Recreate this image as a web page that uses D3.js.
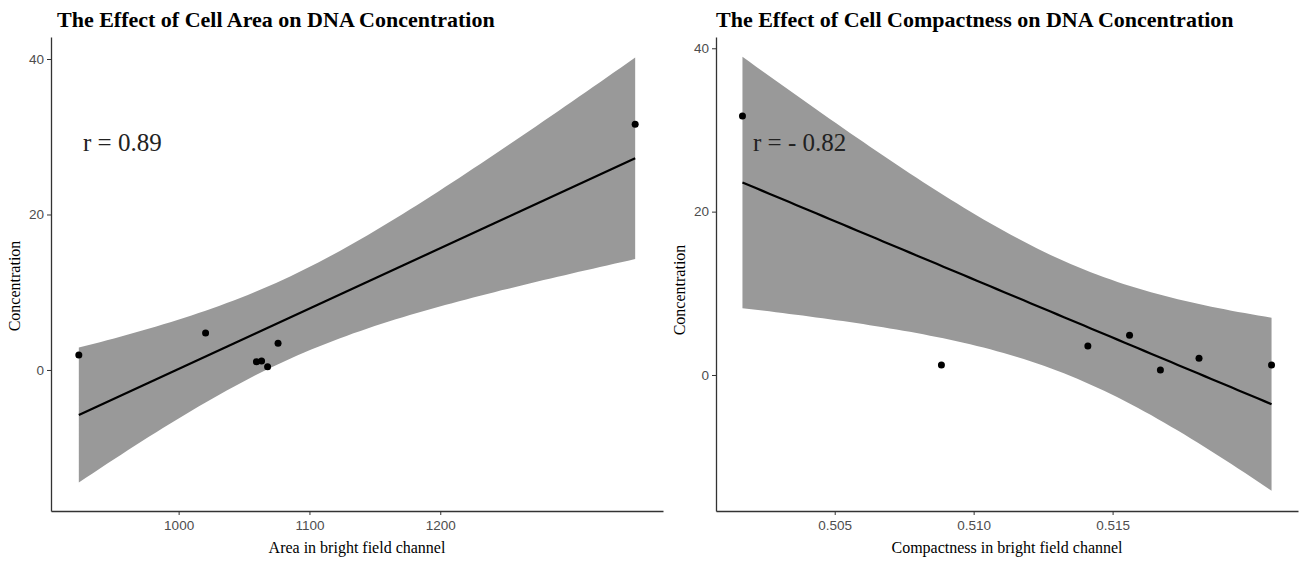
<!DOCTYPE html>
<html>
<head>
<meta charset="utf-8">
<script src="https://cdn.jsdelivr.net/npm/d3@7"></script>
<style>
  body { margin: 0; background: #fff; }
  .tick text { font-family: "Liberation Sans", Arial, sans-serif; font-size: 13.5px; fill: #4d4d4d; }
  .tick line { stroke: #333; }
  .domain { stroke: #333; }
  .title { font-family: "Liberation Serif", "Times New Roman", serif; font-weight: bold; font-size: 22px; }
  .axis-title { font-family: "Liberation Serif", "Times New Roman", serif; font-size: 16px; }
  .rlabel { font-family: "Liberation Serif", "Times New Roman", serif; font-size: 25px; fill: #222; }
</style>
</head>
<body>
<svg id="chart"></svg>
<script>
// values
const areaX = [923.7, 1020.6, 1059.5, 1063.4, 1068, 1076, 1349];
const areaY = [1.93, 4.75, 1.07, 1.16, 0.43, 3.43, 31.6];
const compX = [0.50168, 0.50884, 0.51411, 0.51561, 0.51672, 0.51811, 0.52072];
const compY = [31.7, 1.22, 3.55, 4.86, 0.61, 2.04, 1.22];

const areaTicksX = [1000, 1100, 1200];
const compTicksX = [0.505, 0.510, 0.515];
const ticksY = [0, 20, 40];
// y axis limits as seen in each panel
const areaLimY = [-18.14, 42.83];
const compLimY = [-16.65, 41.38];

const titles = ['The Effect of Cell Area on DNA Concentration', 'The Effect of Cell Compactness on DNA Concentration'];
const xTitles = ['Area in bright field channel', 'Compactness in bright field channel'];
const rLabels = ['r = 0.89', 'r = - 0.82'];

const W = 1302, H = 563;
const svg = d3.select('#chart').attr('width', W).attr('height', H);

// t quantile (0.975, df = 5) for n = 7 points
const T975 = 2.570582;

// linear fit + 95% confidence band, like geom_smooth(method = 'lm')
function lmBand(xs, ys, n) {
  const N = xs.length;
  const mx = d3.mean(xs), my = d3.mean(ys);
  let sxx = 0, sxy = 0;
  xs.forEach((x, i) => { sxx += (x - mx) ** 2; sxy += (x - mx) * (ys[i] - my); });
  const b = sxy / sxx, a = my - b * mx;
  let rss = 0;
  xs.forEach((x, i) => { rss += (ys[i] - a - b * x) ** 2; });
  const s = Math.sqrt(rss / (N - 2));
  const [lo, hi] = d3.extent(xs);
  return d3.range(n).map(i => {
    const x = lo + (hi - lo) * i / (n - 1);
    const fit = a + b * x;
    const se = s * Math.sqrt(1 / N + (x - mx) ** 2 / sxx);
    return { x, fit, lo: fit - T975 * se, hi: fit + T975 * se };
  });
}

function expand(ext, f = 0.05) {
  const d = ext[1] - ext[0];
  return [ext[0] - d * f, ext[1] + d * f];
}

function panel(opt) {
  const band = lmBand(opt.xs, opt.ys, 80);
  const x = d3.scaleLinear().domain(expand(d3.extent(opt.xs))).range([opt.left, opt.right]);
  const y = d3.scaleLinear().domain(opt.limY).range([opt.bottom, opt.top]);

  const g = svg.append('g');

  g.append('path')
    .datum(band)
    .attr('fill', '#999999')
    .attr('d', d3.area().x(d => x(d.x)).y0(d => y(d.lo)).y1(d => y(d.hi)));

  g.append('path')
    .datum(band)
    .attr('fill', 'none')
    .attr('stroke', '#000')
    .attr('stroke-width', 2.2)
    .attr('d', d3.line().x(d => x(d.x)).y(d => y(d.fit)));

  g.selectAll('circle')
    .data(opt.xs.map((v, i) => [v, opt.ys[i]]))
    .enter().append('circle')
    .attr('r', 3.5)
    .attr('cx', d => x(d[0]))
    .attr('cy', d => y(d[1]));

  g.append('g')
    .attr('transform', `translate(0, ${opt.bottom})`)
    .call(d3.axisBottom(x).tickValues(opt.ticksX).tickSize(4).tickSizeOuter(0).tickPadding(5).tickFormat(opt.fmt));

  g.append('g')
    .attr('transform', `translate(${opt.left}, 0)`)
    .call(d3.axisLeft(y).tickValues(ticksY).tickSize(4).tickSizeOuter(0).tickPadding(3));

  g.selectAll('.domain').attr('stroke-width', 1.3);

  g.append('text').attr('class', 'title')
    .attr('x', opt.titleX).attr('y', 27)
    .text(opt.title);

  g.append('text').attr('class', 'axis-title')
    .attr('text-anchor', 'middle')
    .attr('x', (opt.left + opt.right) / 2).attr('y', 553)
    .text(opt.xTitle);

  g.append('text').attr('class', 'axis-title')
    .attr('text-anchor', 'middle')
    .attr('transform', `translate(${opt.left - 31}, ${opt.yTitleY}) rotate(-90)`)
    .text('Concentration');

  g.append('text').attr('class', 'rlabel')
    .attr('x', opt.rX).attr('y', 151)
    .text(opt.rLabel);
}

panel({
  xs: areaX, ys: areaY, ticksX: areaTicksX, fmt: d3.format('d'), limY: areaLimY,
  left: 51, right: 663, top: 37, bottom: 511,
  title: titles[0], titleX: 57, xTitle: xTitles[0], yTitleY: 286,
  rLabel: rLabels[0], rX: 83
});

panel({
  xs: compX, ys: compY, ticksX: compTicksX, fmt: d3.format('.3f'), limY: compLimY,
  left: 716, right: 1298, top: 37, bottom: 511,
  title: titles[1], titleX: 716, xTitle: xTitles[1], yTitleY: 290,
  rLabel: rLabels[1], rX: 753
});
</script>
</body>
</html>
